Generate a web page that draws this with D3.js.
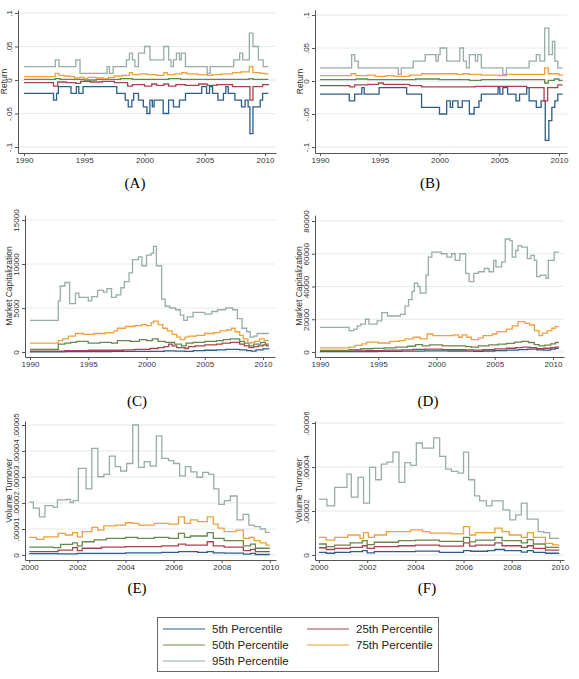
<!DOCTYPE html>
<html>
<head>
<meta charset="utf-8">
<script src="https://cdn.jsdelivr.net/npm/d3@7"></script>
<style>
	body { margin: 0; background: #fff; }
	svg { display: block; font-family: "Liberation Sans", Arial, sans-serif; }
	.caption { font-family: "Liberation Serif", "DejaVu Serif", serif; font-size: 15px; }
</style>
</head>
<body>
<svg id="chart" width="579" height="679"></svg>
<script>
// ---- data: step series as [year, value] change points ----
const percentiles = ["5th Percentile", "25th Percentile", "50th Percentile", "75th Percentile", "95th Percentile"];

const yearTicksLong = [1990, 1995, 2000, 2005, 2010];
const yearTicksShort = [2000, 2002, 2004, 2006, 2008, 2010];

const returnTicks = [-0.1, -0.05, 0, 0.05, 0.1];
const returnTickLabels = ["-.1", "-.05", "0", ".05", ".1"];
const capTicksC = [0, 5000, 10000, 15000];
const capTicksD = [0, 20000, 40000, 60000, 80000];
const turnTicksE = [0, 1e-5, 2e-5, 3e-5, 4e-5, 5e-5];
const turnTickLabelsE = ["0", ".00001", ".00002", ".00003", ".00004", ".00005"];
const turnTicksF = [0, 2e-5, 4e-5, 6e-5];
const turnTickLabelsF = ["0", ".00002", ".00004", ".00006"];

// (A) return
const retA05 = [[1990,-.02],[1992.45,-.03],[1992.7,-.02],[1992.85,-.01],[1993.9,-.02],[1994.35,-.01],[1994.55,-.02],[1994.9,-.01],[1997.7,-.02],[1998.4,-.03],[1998.65,-.04],[1998.95,-.03],[1999.1,-.02],[1999.5,-.03],[1999.9,-.04],[2000.2,-.05],[2000.45,-.03],[2000.65,-.04],[2000.8,-.03],[2001.55,-.05],[2002.0,-.03],[2002.4,-.04],[2002.9,-.03],[2003.4,-.02],[2004.75,-.01],[2005.15,-.02],[2005.4,-.01],[2005.65,-.02],[2006.1,-.03],[2006.55,-.02],[2006.75,-.01],[2006.95,-.02],[2007.5,-.03],[2008.05,-.04],[2008.35,-.03],[2008.6,-.04],[2008.75,-.08],[2009.0,-.04],[2009.6,-.03],[2009.8,-.02],[2010.28,-.02]];
const retA25 = [[1990,-.004],[1992.45,-.009],[1992.8,-.003],[1993.5,-.004],[1994.3,-.005],[1994.7,-.002],[1995.5,-.003],[1996.5,-.002],[1997.5,-.004],[1998.6,-.009],[1999.0,-.007],[2000.0,-.009],[2000.6,-.006],[2001.0,-.008],[2001.6,-.006],[2002.0,-.009],[2002.6,-.007],[2003.4,-.008],[2004.5,-.006],[2005.2,-.008],[2006.0,-.007],[2007.3,-.01],[2008.75,-.03],[2009.0,-.01],[2009.8,-.007],[2010.28,-.006]];
const retA50 = [[1990,.001],[1992.6,.002],[1993.0,.001],[1995.0,0],[1996.0,.001],[1998.0,.002],[1999.0,.001],[2002.0,.002],[2003.0,.001],[2008.7,.002],[2009.0,.001],[2010.28,.001]];
const retA75 = [[1990,.005],[1992.6,.01],[1992.9,.007],[1993.3,.006],[1993.8,.005],[1994.2,.003],[1994.6,.004],[1995.0,.002],[1995.3,.004],[1996.0,.003],[1996.6,.002],[1997.0,.004],[1997.5,.006],[1998.2,.007],[1998.75,.011],[1999.0,.008],[1999.6,.009],[2000.2,.008],[2001.0,.007],[2001.6,.011],[2001.9,.008],[2002.5,.009],[2003.1,.011],[2003.5,.009],[2004.4,.008],[2005.2,.007],[2005.6,.008],[2006.4,.009],[2007.3,.011],[2008.0,.012],[2008.7,.02],[2009.0,.011],[2009.6,.01],[2010.0,.009],[2010.28,.009]];
const retA95 = [[1990,.02],[1992.6,.03],[1992.9,.02],[1994.3,.03],[1994.65,.01],[1996.9,.02],[1997.1,.01],[1997.4,.02],[1998.5,.03],[1998.75,.04],[1999.0,.03],[1999.2,.02],[1999.5,.04],[2000.0,.05],[2000.45,.03],[2001.6,.05],[2002.0,.03],[2002.2,.02],[2002.4,.03],[2002.65,.04],[2002.9,.03],[2003.05,.04],[2003.4,.02],[2005.2,.01],[2005.45,.02],[2007.4,.03],[2007.9,.04],[2008.15,.03],[2008.7,.07],[2009.0,.05],[2009.45,.03],[2009.85,.02],[2010.28,.02]];

// (B) return
const retB05 = [[1990,-.02],[1992.45,-.03],[1992.9,-.02],[1993.5,-.01],[1993.7,-.02],[1994.95,-.01],[1997.25,-.02],[1998.5,-.04],[2000.0,-.05],[2000.6,-.03],[2000.9,-.04],[2001.1,-.03],[2001.55,-.04],[2001.9,-.03],[2002.5,-.05],[2002.9,-.04],[2003.3,-.03],[2003.5,-.02],[2004.9,-.01],[2005.05,-.02],[2005.3,-.01],[2005.7,-.02],[2006.4,-.03],[2006.7,-.02],[2007.3,-.01],[2007.5,-.03],[2008.1,-.04],[2008.5,-.03],[2008.85,-.09],[2009.15,-.06],[2009.4,-.04],[2009.65,-.03],[2009.9,-.02],[2010.3,-.02]];
const retB25 = [[1990,-.007],[1992.5,-.009],[1992.9,-.006],[1994.0,-.005],[1994.9,-.003],[1995.3,-.005],[1997.5,-.007],[1998.5,-.009],[2003.0,-.008],[2007.3,-.01],[2008.75,-.03],[2009.05,-.01],[2009.9,-.006],[2010.3,-.006]];
const retB50 = [[1990,.002],[1993.0,.003],[1994.0,.002],[1998.0,.003],[2000.0,.002],[2002.5,.001],[2003.5,.002],[2008.8,-.003],[2009.1,.001],[2009.6,.003],[2010.0,.001],[2010.3,.001]];
const retB75 = [[1990,.008],[1992.6,.011],[1993.0,.008],[1994.0,.009],[1994.6,.007],[1995.5,.008],[1996.2,.007],[1997.5,.009],[1998.5,.011],[2001.5,.01],[2002.0,.011],[2002.5,.01],[2003.5,.009],[2005.0,.008],[2005.6,.01],[2008.8,.02],[2009.1,.011],[2010.0,.009],[2010.3,.008]];
const retB95 = [[1990,.02],[1992.65,.04],[1992.9,.03],[1993.2,.02],[1996.55,.01],[1996.8,.02],[1997.8,.03],[1998.8,.04],[1999.7,.03],[1999.9,.04],[2000.05,.05],[2000.6,.03],[2001.7,.05],[2002.0,.03],[2002.25,.02],[2002.5,.04],[2003.0,.03],[2003.2,.04],[2003.5,.02],[2005.3,.01],[2005.6,.02],[2007.5,.03],[2008.1,.04],[2008.4,.03],[2008.8,.08],[2009.15,.04],[2009.45,.06],[2009.65,.03],[2009.9,.02],[2010.3,.02]];

// (C) market capitalization
const capC05 = [[1990,30],[1993.0,50],[1997.0,60],[2000.0,80],[2001.5,120],[2002.5,100],[2003.3,80],[2004.0,150],[2005.0,200],[2006.0,250],[2006.8,300],[2008.0,250],[2008.6,150],[2009.0,100],[2009.4,250],[2010.0,350],[2010.5,300]];
const capC25 = [[1990,100],[1993.0,150],[1995.0,200],[1998.0,250],[1999.0,300],[2000.3,400],[2001.0,500],[2001.5,600],[2001.9,900],[2002.2,700],[2002.6,500],[2003.3,400],[2003.6,600],[2004.2,700],[2005.0,800],[2006.0,900],[2006.5,1000],[2007.2,1100],[2008.0,900],[2008.4,700],[2008.8,500],[2009.2,600],[2009.6,700],[2010.0,800],[2010.3,700],[2010.5,700]];
const capC50 = [[1990,300],[1992.43,900],[1993.0,1000],[1993.5,1100],[1994.0,1200],[1995.0,1000],[1996.0,1100],[1997.0,1000],[1997.5,1300],[1998.6,1200],[1999.4,1400],[2000.0,1300],[2000.5,1500],[2001.0,1200],[2001.6,1100],[2002.4,900],[2003.0,700],[2003.4,1000],[2004.0,1100],[2005.0,1200],[2006.0,1300],[2006.6,1400],[2007.2,1500],[2008.0,1200],[2008.4,1000],[2008.8,700],[2009.2,900],[2009.8,1100],[2010.2,900],[2010.5,900]];
const capC75 = [[1990,1000],[1992.43,1300],[1992.8,1500],[1993.3,1800],[1993.9,2100],[1994.6,2000],[1995.5,2100],[1996.5,2200],[1997.2,2400],[1997.5,2700],[1998.2,2900],[1999.0,3000],[1999.6,3100],[2000.0,3000],[2000.4,3300],[2000.6,3500],[2001.0,3100],[2001.4,2700],[2001.8,2400],[2002.2,2000],[2002.6,1700],[2002.9,1400],[2003.3,1700],[2003.6,1800],[2004.3,1900],[2005.0,2100],[2005.8,2200],[2006.3,2400],[2006.9,2500],[2007.3,2700],[2007.6,2300],[2008.0,1900],[2008.3,1500],[2008.7,1000],[2009.0,1100],[2009.3,1200],[2009.7,1500],[2010.1,1300],[2010.5,1300]];
const capC95 = [[1990,3600],[1992.43,5800],[1992.6,7500],[1993.0,7900],[1993.4,5500],[1993.9,6700],[1994.2,6200],[1995.0,5800],[1995.3,6300],[1995.8,7000],[1996.3,6800],[1996.6,7200],[1997.0,6200],[1997.4,6500],[1997.8,7300],[1998.1,8000],[1998.5,9000],[1998.8,10500],[1999.3,10800],[1999.6,9800],[2000.0,11000],[2000.4,11200],[2000.6,12000],[2000.85,9800],[2001.3,6000],[2001.6,5200],[2002.0,5000],[2002.5,4800],[2002.9,4200],[2003.2,3600],[2003.5,4000],[2004.0,4500],[2005.0,4300],[2005.6,4600],[2006.1,4800],[2006.8,5000],[2007.4,4800],[2007.8,3800],[2008.2,2700],[2008.6,2300],[2008.9,1700],[2009.2,1800],[2009.5,2100],[2010.5,2100]];

// (D) market capitalization
const capD05 = [[1990,200],[1993.0,300],[1995.0,400],[1997.0,500],[1999.0,700],[2001.0,600],[2002.5,500],[2003.2,400],[2004.0,600],[2005.0,800],[2006.0,1100],[2007.0,1500],[2007.8,1800],[2008.6,1300],[2009.2,1200],[2009.8,1700],[2010.2,2200],[2010.5,2200]];
const capD25 = [[1990,500],[1992.5,700],[1994.0,900],[1995.5,1100],[1997.0,1300],[1998.0,1600],[1999.0,1700],[2000.5,1500],[2002.5,1300],[2003.2,1200],[2004.0,1500],[2005.0,1900],[2006.0,2300],[2006.8,2700],[2007.4,3000],[2008.0,2700],[2008.6,2000],[2009.2,2300],[2009.8,2700],[2010.2,3000],[2010.5,3000]];
const capD50 = [[1990,1000],[1992.5,1500],[1993.5,2000],[1994.5,2200],[1995.5,2500],[1996.5,3000],[1997.5,3500],[1998.2,4500],[1998.8,3800],[1999.4,4300],[2000.5,3800],[2002.5,3300],[2003.0,3000],[2003.6,3800],[2004.5,4300],[2005.3,4800],[2006.0,5300],[2006.7,6000],[2007.3,6500],[2007.9,5800],[2008.4,4500],[2008.8,3800],[2009.3,4200],[2009.8,5000],[2010.2,5800],[2010.5,5800]];
const capD75 = [[1990,2500],[1992.5,3000],[1993.0,4000],[1993.6,5000],[1994.0,6000],[1995.0,5500],[1996.0,6500],[1996.8,7000],[1997.3,8000],[1998.0,9000],[1998.6,8000],[1999.2,11000],[1999.7,10000],[2001.5,10500],[2001.9,9000],[2002.2,10500],[2002.6,9000],[2003.0,7500],[2003.6,8500],[2004.0,10000],[2004.8,11000],[2005.2,12500],[2006.0,14000],[2006.5,16000],[2007.0,18500],[2007.6,17500],[2008.0,16500],[2008.4,13000],[2008.8,10000],[2009.1,11500],[2009.5,13000],[2009.9,14500],[2010.2,15500],[2010.5,15500]];
const capD95 = [[1990,15000],[1992.5,13000],[1992.9,14000],[1993.2,16000],[1993.5,17000],[1993.9,20000],[1994.2,17000],[1994.9,19000],[1995.3,24000],[1995.8,22000],[1996.9,23000],[1997.3,28000],[1997.6,32000],[1997.9,37000],[1998.1,42000],[1998.4,40000],[1998.6,36000],[1999.1,47000],[1999.3,58000],[1999.6,61000],[2000.4,60000],[2000.9,58000],[2001.3,60000],[2001.6,56000],[2002.0,60000],[2002.5,48000],[2002.8,43000],[2003.2,48000],[2003.6,49000],[2004.1,51000],[2004.5,49000],[2004.9,56000],[2005.1,52000],[2005.6,55000],[2005.9,69000],[2006.3,68000],[2006.5,58000],[2006.8,62000],[2007.0,65000],[2007.3,64000],[2007.8,57000],[2008.1,59000],[2008.4,56000],[2008.6,46000],[2008.9,47000],[2009.4,45000],[2009.6,56000],[2010.1,61000],[2010.5,61000]];

// (E) volume turnover
const turnE05 = [[2000,.05e-5],[2001.2,.04e-5],[2002.0,.06e-5],[2004.0,.08e-5],[2005.5,.1e-5],[2006.2,.13e-5],[2007.0,.1e-5],[2007.4,.13e-5],[2007.65,.08e-5],[2008.1,.07e-5],[2008.9,.03e-5],[2009.2,.06e-5],[2009.4,.02e-5],[2010.0,.02e-5]];
const turnE25 = [[2000,.13e-5],[2001.2,.19e-5],[2001.8,.28e-5],[2002.0,.17e-5],[2002.2,.26e-5],[2003.0,.3e-5],[2004.0,.32e-5],[2005.5,.35e-5],[2006.2,.42e-5],[2006.5,.38e-5],[2007.4,.51e-5],[2007.65,.35e-5],[2008.1,.3e-5],[2008.9,.17e-5],[2009.2,.22e-5],[2009.4,.13e-5],[2010.0,.13e-5]];
const turnE50 = [[2000,.3e-5],[2001.0,.28e-5],[2001.3,.41e-5],[2001.8,.47e-5],[2002.0,.35e-5],[2002.2,.51e-5],[2002.7,.58e-5],[2003.2,.64e-5],[2004.0,.68e-5],[2004.5,.64e-5],[2005.2,.68e-5],[2005.8,.64e-5],[2006.2,.83e-5],[2006.45,.68e-5],[2006.7,.73e-5],[2007.4,.86e-5],[2007.65,.64e-5],[2008.1,.55e-5],[2008.9,.35e-5],[2009.2,.42e-5],[2009.4,.26e-5],[2010.0,.26e-5]];
const turnE75 = [[2000,.68e-5],[2000.3,.6e-5],[2000.6,.7e-5],[2001.2,.83e-5],[2001.5,.77e-5],[2001.8,.86e-5],[2002.0,.7e-5],[2002.2,.9e-5],[2002.6,1.06e-5],[2002.85,.96e-5],[2003.1,1.12e-5],[2003.6,1.15e-5],[2004.0,1.24e-5],[2004.3,1.22e-5],[2004.55,1.15e-5],[2005.2,1.22e-5],[2005.8,1.19e-5],[2006.2,1.47e-5],[2006.45,1.22e-5],[2006.7,1.35e-5],[2007.0,1.28e-5],[2007.4,1.47e-5],[2007.65,1.19e-5],[2007.85,1.03e-5],[2008.1,.9e-5],[2008.6,.96e-5],[2008.9,.64e-5],[2009.15,.68e-5],[2009.35,.55e-5],[2009.6,.47e-5],[2009.85,.38e-5],[2010.0,.38e-5]];
const turnE95 = [[2000,2.03e-5],[2000.17,1.8e-5],[2000.42,1.47e-5],[2000.65,1.9e-5],[2001.0,1.83e-5],[2001.17,2.12e-5],[2001.55,2.14e-5],[2001.7,2.02e-5],[2001.83,2.09e-5],[2002.04,3.33e-5],[2002.36,2.54e-5],[2002.6,4.1e-5],[2002.85,3.01e-5],[2003.1,3.1e-5],[2003.33,3.8e-5],[2003.57,3.4e-5],[2003.8,3.23e-5],[2004.05,3.52e-5],[2004.3,5.0e-5],[2004.54,3.37e-5],[2004.78,3.59e-5],[2005.03,3.42e-5],[2005.28,4.58e-5],[2005.51,3.72e-5],[2005.79,3.63e-5],[2006.0,3.52e-5],[2006.25,3.04e-5],[2006.49,3.4e-5],[2006.72,3.2e-5],[2006.97,2.99e-5],[2007.21,3.18e-5],[2007.46,3.1e-5],[2007.67,2.54e-5],[2007.88,1.95e-5],[2008.11,2.09e-5],[2008.36,2.27e-5],[2008.64,1.35e-5],[2008.89,1.56e-5],[2009.13,1.15e-5],[2009.36,1.09e-5],[2009.61,1.0e-5],[2009.82,.87e-5],[2010.0,.87e-5]];

// (F) volume turnover
const turnF05 = [[2000,.12e-5],[2000.3,.08e-5],[2000.65,.12e-5],[2001.3,.15e-5],[2001.8,.2e-5],[2002.0,.1e-5],[2002.3,.15e-5],[2004.0,.18e-5],[2005.0,.12e-5],[2006.0,.2e-5],[2006.3,.17e-5],[2007.0,.2e-5],[2007.3,.25e-5],[2007.7,.2e-5],[2008.4,.13e-5],[2008.65,.2e-5],[2008.9,.12e-5],[2009.4,.08e-5],[2009.97,.08e-5]];
const turnF25 = [[2000,.33e-5],[2000.3,.25e-5],[2000.65,.3e-5],[2001.3,.35e-5],[2001.8,.42e-5],[2002.0,.3e-5],[2002.3,.38e-5],[2003.3,.42e-5],[2004.0,.45e-5],[2005.0,.4e-5],[2006.0,.55e-5],[2006.25,.4e-5],[2006.5,.45e-5],[2007.3,.55e-5],[2007.6,.42e-5],[2008.4,.35e-5],[2008.65,.42e-5],[2008.9,.3e-5],[2009.4,.22e-5],[2009.97,.22e-5]];
const turnF50 = [[2000,.5e-5],[2000.3,.38e-5],[2000.65,.45e-5],[2001.3,.55e-5],[2001.8,.65e-5],[2002.0,.47e-5],[2002.3,.58e-5],[2003.3,.65e-5],[2004.0,.68e-5],[2005.0,.62e-5],[2006.0,.8e-5],[2006.25,.6e-5],[2006.5,.68e-5],[2007.3,.8e-5],[2007.6,.65e-5],[2008.4,.55e-5],[2008.65,.7e-5],[2008.9,.5e-5],[2009.4,.35e-5],[2009.97,.35e-5]];
const turnF75 = [[2000,.8e-5],[2000.3,.68e-5],[2000.65,.8e-5],[2001.2,.91e-5],[2001.7,.76e-5],[2001.85,1.02e-5],[2002.05,.8e-5],[2002.3,.91e-5],[2002.8,1.06e-5],[2003.8,1.14e-5],[2004.3,1.06e-5],[2004.6,.99e-5],[2005.5,.96e-5],[2006.0,1.29e-5],[2006.25,.91e-5],[2006.5,1.02e-5],[2007.3,1.22e-5],[2007.6,1.06e-5],[2007.9,.91e-5],[2008.4,.8e-5],[2008.65,1.02e-5],[2008.9,.8e-5],[2009.4,.53e-5],[2009.7,.46e-5],[2009.97,.46e-5]];
const turnF95 = [[2000,2.54e-5],[2000.33,2.23e-5],[2000.65,3.07e-5],[2001.16,3.68e-5],[2001.34,2.63e-5],[2001.62,3.53e-5],[2001.85,2.36e-5],[2002.1,3.98e-5],[2002.35,3.42e-5],[2002.59,4.13e-5],[2002.82,4.22e-5],[2003.07,4.68e-5],[2003.32,3.3e-5],[2003.56,4.2e-5],[2003.8,4.07e-5],[2004.04,5.09e-5],[2004.29,4.86e-5],[2004.76,5.32e-5],[2005.01,4.48e-5],[2005.26,3.9e-5],[2005.5,3.8e-5],[2005.77,3.72e-5],[2006.0,4.68e-5],[2006.21,3.42e-5],[2006.46,2.69e-5],[2006.67,2.46e-5],[2006.95,2.23e-5],[2007.18,2.46e-5],[2007.64,2.05e-5],[2007.92,1.6e-5],[2008.17,1.82e-5],[2008.4,2.36e-5],[2008.64,1.63e-5],[2009.1,1.06e-5],[2009.33,1.02e-5],[2009.58,.76e-5],[2009.97,.76e-5]];

// ---- styling ----
const lineColors = ["#2c5d8b", "#a8434e", "#67874f", "#eda03c", "#98aca8"];

const svg = d3.select("#chart");

// plot box = axis lines; cal = two [value, pixel] anchors
let panels = [
	{ id: "(A)", series: [retA05, retA25, retA50, retA75, retA95], title: "Return", titleOff: -11,
		xTicks: yearTicksLong, yTicks: returnTicks, yLabels: returnTickLabels,
		box: { left: 18, right: 276, top: 10, bottom: 153 },
		xCal: [[1990, 24], [2010, 265]], yCal: [[-0.1, 147], [0.1, 13]],
		caption: [135, 188] },
	{ id: "(B)", series: [retB05, retB25, retB50, retB75, retB95], title: "Return", titleOff: -12,
		xTicks: yearTicksLong, yTicks: returnTicks, yLabels: returnTickLabels,
		box: { left: 315, right: 567, top: 10, bottom: 153 },
		xCal: [[1990, 320], [2010, 559]], yCal: [[-0.1, 147], [0.1, 15]],
		caption: [430, 188] },
	{ id: "(C)", series: [capC05, capC25, capC50, capC75, capC95], title: "Market Capitalization", titleOff: -13,
		xTicks: yearTicksLong, yTicks: capTicksC, yLabels: capTicksC.map(String),
		box: { left: 25, right: 275, top: 215, bottom: 357 },
		xCal: [[1990, 30], [2010, 263]], yCal: [[0, 352], [15000, 220]],
		caption: [137, 406] },
	{ id: "(D)", series: [capD05, capD25, capD50, capD75, capD95], title: "Market Capitalization", titleOff: -13,
		xTicks: yearTicksLong, yTicks: capTicksD, yLabels: capTicksD.map(String),
		box: { left: 315, right: 564, top: 215, bottom: 357 },
		xCal: [[1990, 320], [2010, 553]], yCal: [[0, 352], [80000, 221]],
		caption: [428, 406] },
	{ id: "(E)", series: [turnE05, turnE25, turnE50, turnE75, turnE95], title: "Volume Turnover", titleOff: -13,
		xTicks: yearTicksShort, yTicks: turnTicksE, yLabels: turnTickLabelsE,
		box: { left: 25, right: 276, top: 421, bottom: 560 },
		xCal: [[2000, 29.3], [2008, 221.7]], yCal: [[0, 555], [5e-5, 425]],
		caption: [137, 593] },
	{ id: "(F)", series: [turnF05, turnF25, turnF50, turnF75, turnF95], title: "Volume Turnover", titleOff: -13,
		xTicks: yearTicksShort, yTicks: turnTicksF, yLabels: turnTickLabelsF,
		box: { left: 315, right: 564, top: 421, bottom: 560 },
		xCal: [[2000, 319], [2008, 511.7]], yCal: [[0, 555], [6e-5, 423]],
		caption: [427, 593] }
];

function calScale(cal, lo, hi) {
	let s = d3.scaleLinear().domain(cal.map((d) => d[0])).range(cal.map((d) => d[1]));
	// stretch the scale out to the edges of the plot box
	return s.domain([s.invert(lo), s.invert(hi)]).range([lo, hi]);
}

function drawPanel(p) {
	let b = p.box;
	let x = calScale(p.xCal, b.left, b.right);
	let y = calScale(p.yCal, b.bottom, b.top);
	let g = svg.append("g");

	// light grid lines
	g.selectAll("line.grid")
		.data(p.yTicks)
		.join("line")
		.attr("class", "grid")
		.attr("x1", b.left)
		.attr("x2", b.right)
		.attr("y1", (d) => y(d))
		.attr("y2", (d) => y(d))
		.attr("stroke", "#e4ebee")
		.attr("stroke-width", 1);

	let line = d3
		.line()
		.x((d) => x(d[0]))
		.y((d) => y(d[1]))
		.curve(d3.curveStepAfter);

	g.selectAll("path.series")
		.data(p.series)
		.join("path")
		.attr("class", "series")
		.attr("fill", "none")
		.attr("stroke", (d, i) => lineColors[i])
		.attr("stroke-width", 1.3)
		.attr("d", line);

	let xa = g
		.append("g")
		.attr("transform", `translate(0,${b.bottom})`)
		.call(d3.axisBottom(x).tickValues(p.xTicks).tickFormat(d3.format("d")).tickSize(3).tickSizeOuter(0).tickPadding(1));
	xa.selectAll("text").attr("font-size", 8).attr("fill", "#333");

	let ya = g
		.append("g")
		.attr("transform", `translate(${b.left},0)`)
		.call(d3.axisLeft(y).tickValues(p.yTicks).tickFormat((d, i) => p.yLabels[i]).tickSize(3).tickSizeOuter(0));
	// Stata-style vertical tick labels
	ya.selectAll(".tick text")
		.attr("transform", "rotate(-90)")
		.attr("x", 0)
		.attr("y", -6)
		.attr("dy", 0)
		.attr("text-anchor", "middle")
		.attr("font-size", 8)
		.attr("fill", "#333");

	svg.selectAll(".domain, .tick line").attr("stroke", "#555");

	svg.append("text")
		.attr("transform", `translate(${b.left + p.titleOff},${(b.top + b.bottom) / 2}) rotate(-90)`)
		.attr("text-anchor", "middle")
		.attr("font-size", 8.5)
		.attr("fill", "#333")
		.text(p.title);

	svg.append("text")
		.attr("class", "caption")
		.attr("x", p.caption[0])
		.attr("y", p.caption[1])
		.attr("text-anchor", "middle")
		.text(p.id);
}

panels.forEach(drawPanel);

// legend
let legend = { x: 157, y: 617, w: 281, h: 54 };
let lg = svg.append("g");
lg.append("rect")
	.attr("x", legend.x + 0.5)
	.attr("y", legend.y + 0.5)
	.attr("width", legend.w)
	.attr("height", legend.h)
	.attr("fill", "#fff")
	.attr("stroke", "#666");

let rowY = d3.scalePoint().domain([0, 1, 2]).range([629, 661]);
let colX = [163, 307];
let items = lg
	.selectAll("g.item")
	.data(percentiles)
	.join("g")
	.attr("class", "item")
	.attr("transform", (d, i) => `translate(${colX[i % 2]},${rowY(Math.floor(i / 2))})`);
items.append("line")
	.attr("x1", 0)
	.attr("x2", 42)
	.attr("stroke", (d, i) => lineColors[i])
	.attr("stroke-width", 1.2);
items.append("text")
	.attr("x", 49)
	.attr("dy", "0.36em")
	.attr("font-size", 11.5)
	.attr("fill", "#222")
	.text((d) => d);
</script>
</body>
</html>
